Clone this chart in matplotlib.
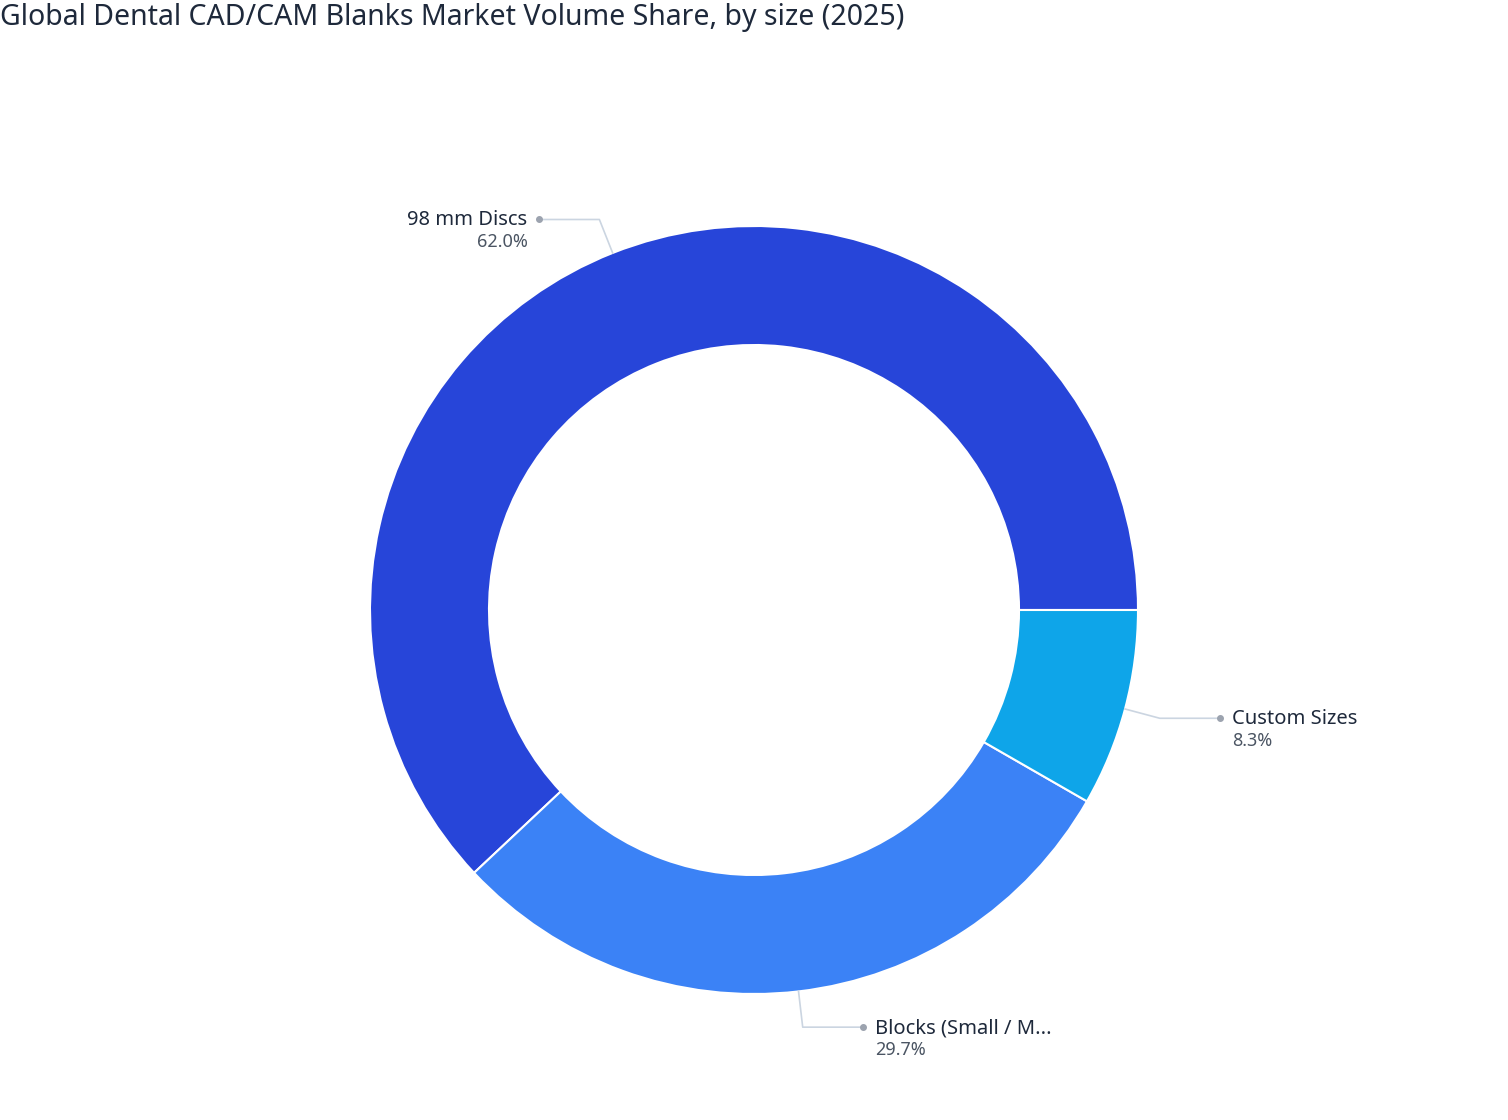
import numpy as np
import matplotlib
matplotlib.use('Agg')
from matplotlib import pyplot as plt

plt.rcParams['font.family'] = ['Noto Sans', 'DejaVu Sans']

# Data
labels = ['98 mm Discs', 'Blocks (Small / M...', 'Custom Sizes']
shares = [62.0, 29.7, 8.3]
colours = ['#2745D9', '#3B82F6', '#0EA5E9']
title = 'Global Dental CAD/CAM Blanks Market Volume Share, by size (2025)'

W, H = 1508, 1120
fig = plt.figure(figsize=(W / 100, H / 100), dpi=100)
ax = fig.add_axes([0, 0, 1, 1])

# donut geometry in pixel units (y measured from bottom)
cx, cy = 754, H - 610
R = 384
hole = 265

wedges, _ = ax.pie(shares, colors=colours, startangle=0, counterclock=True,
                   center=(cx, cy), radius=R, frame=True,
                   wedgeprops=dict(width=R - hole, edgecolor='white', linewidth=1.5))
ax.set_xlim(0, W)
ax.set_ylim(0, H)
ax.set_aspect('equal')
ax.axis('off')

# leader lines and labels
for w, lab, s in zip(wedges, labels, shares):
    mid = np.deg2rad((w.theta1 + w.theta2) / 2)
    x0, y0 = cx + R * np.cos(mid), cy + R * np.sin(mid)
    x1, y1 = cx + (R + 36) * np.cos(mid), cy + (R + 36) * np.sin(mid)
    side = 1 if np.cos(mid) >= 0 else -1
    x2 = x1 + side * 60
    ax.plot([x0, x1, x2], [y0, y1, y1], color='#CBD5E1', lw=1.2, zorder=3)
    ax.plot([x2], [y1], 'o', color='#9CA3AF', ms=4, zorder=4)
    ha = 'left' if side > 0 else 'right'
    tx = x2 + side * 12
    ax.text(tx, y1 - 1, lab, ha=ha, va='center', fontsize=14.5,
            fontweight='medium', color='#1E293B')
    ax.text(tx, y1 - 23, f'{s:.1f}%', ha=ha, va='center', fontsize=13,
            color='#4B5563')

fig.text(0, 1 - 18 / H, title, ha='left', va='center', fontsize=20.5,
         fontweight='medium', color='#1E293B')

fig.savefig('out.png', dpi=100, facecolor='white')
